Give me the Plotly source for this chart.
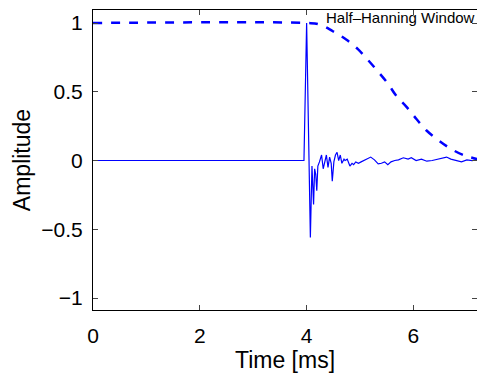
import plotly.graph_objects as go

# Impulse response
time_ms = [0, 3.95, 4.00, 4.07, 4.10, 4.13, 4.15, 4.17, 4.19, 4.21, 4.24, 4.28, 4.31, 4.34,
           4.37, 4.40, 4.43, 4.46, 4.48, 4.51, 4.54, 4.57, 4.60, 4.63, 4.66, 4.70, 4.72,
           4.76, 4.81, 4.85, 4.88, 4.92, 4.97, 5.02, 5.08, 5.14, 5.20, 5.27, 5.34, 5.40,
           5.46, 5.52, 5.58, 5.65, 5.72, 5.81, 5.90, 5.96, 6.05, 6.15, 6.25, 6.35, 6.45,
           6.55, 6.62, 6.70, 6.80, 6.90, 7.00, 7.10, 7.20]
amplitude = [0, 0, 1.0, -0.56, -0.04, -0.32, -0.06, -0.10, -0.22, -0.04, -0.01, 0.04, -0.06,
             0.0, 0.04, -0.05, 0.025, -0.02, -0.15, -0.01, 0.04, 0.06, 0.0, 0.04, -0.02,
             0.01, 0.0, 0.01, -0.04, -0.02, -0.03, -0.01, -0.02, -0.01, 0.0, 0.015, 0.025,
             0.005, -0.025, -0.02, -0.01, -0.03, -0.01, 0.0, 0.005, 0.02, 0.01, 0.02, 0.0,
             0.01, -0.005, 0.0, 0.01, 0.02, 0.025, 0.01, 0.0, -0.01, 0.005, 0.0, 0.01]

# Half-Hanning window
window_t = [0, 4.0, 4.24, 4.49, 4.74, 4.96, 5.15, 5.34, 5.52, 5.68, 5.87, 6.06, 6.24,
            6.46, 6.68, 6.93, 7.2]
window_v = [1, 1, 0.99, 0.94, 0.88, 0.81, 0.73, 0.645, 0.56, 0.47, 0.39, 0.30, 0.22,
            0.15, 0.09, 0.04, 0.01]

x_ticks = [0, 2, 4, 6]
y_ticks = [-1, -0.5, 0, 0.5, 1]
y_tick_text = ["\u22121", "\u22120.5", "0", "0.5", "1"]

fig = go.Figure()
fig.add_trace(go.Scatter(x=time_ms, y=amplitude, mode="lines",
                         line=dict(color="#0000FF", width=1.2), showlegend=False))
fig.add_trace(go.Scatter(x=window_t, y=window_v, mode="lines", line_shape="spline",
                         line=dict(color="#0000FF", width=2.5, dash="dash"),
                         showlegend=False))

fig.add_annotation(x=5.76, y=1.04, text="Half\u2013Hanning Window", showarrow=False,
                   xref="x", yref="y", xanchor="center", yanchor="middle",
                   font=dict(family="Liberation Sans, Arial, sans-serif", size=15, color="black"))

font_tick = dict(family="Liberation Sans, Arial, sans-serif", size=21, color="black")
font_title = dict(family="Liberation Sans, Arial, sans-serif", size=23, color="black")

fig.update_layout(
    width=477, height=376,
    margin=dict(l=93, r=0, t=10, b=66),
    paper_bgcolor="white", plot_bgcolor="white",
    font=font_tick,
    xaxis=dict(range=[0, 7.19], tickvals=x_ticks, ticks="inside", ticklen=5,
               showline=True, linecolor="black", linewidth=1, mirror="allticks",
               showgrid=False, zeroline=False, tickfont=font_tick,
               ticklabelstandoff=7,
               title=dict(text="Time [ms]", font=font_title, standoff=5)),
    yaxis=dict(range=[-1.087, 1.0945], tickvals=y_ticks, ticktext=y_tick_text,
               ticks="inside", ticklen=5,
               showline=True, linecolor="black", linewidth=1, mirror="allticks",
               showgrid=False, zeroline=False, tickfont=font_tick,
               ticklabelstandoff=5,
               title=dict(text="Amplitude", font=font_title, standoff=4)),
)

fig.write_html("out.html", config={"displayModeBar": False},
               post_script="document.body.style.margin='0';document.body.style.overflow='hidden';")
